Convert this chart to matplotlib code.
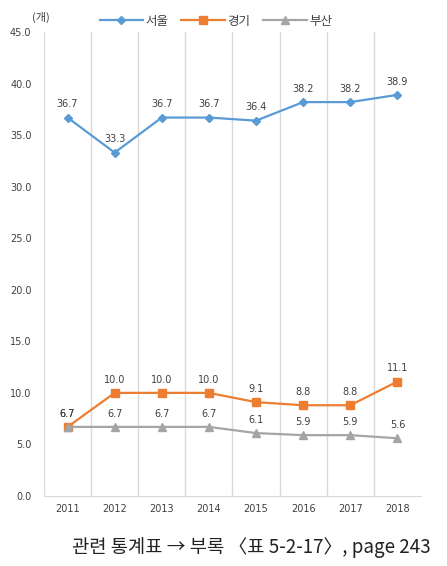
import matplotlib
matplotlib.use('Agg')
import matplotlib.pyplot as plt

plt.rcParams['font.family'] = ['Noto Sans CJK KR', 'DejaVu Sans']

# data
years = ['2011', '2012', '2013', '2014', '2015', '2016', '2017', '2018']
seoul = [36.7, 33.3, 36.7, 36.7, 36.4, 38.2, 38.2, 38.9]
gyeonggi = [6.7, 10.0, 10.0, 10.0, 9.1, 8.8, 8.8, 11.1]
busan = [6.7, 6.7, 6.7, 6.7, 6.1, 5.9, 5.9, 5.6]
series_names = ['서울', '경기', '부산']
colors = ['#5B9BD5', '#ED7D31', '#A5A5A5']
markers = ['D', 's', '^']
marker_sizes = [4.5, 5.5, 6]

num_font = dict(family='DejaVu Sans', fontsize=7, color='#404040')

fig = plt.figure(figsize=(4.47, 5.66), dpi=100)
ax = fig.add_axes([0.0984, 0.1237, 0.8434, 0.8198])

x = list(range(len(years)))
for vals, name, c, m, ms in zip([seoul, gyeonggi, busan], series_names, colors, markers, marker_sizes):
    ax.plot(x, vals, color=c, marker=m, markersize=ms, linewidth=1.6, label=name)
    for xi, v in zip(x, vals):
        ax.annotate(f'{v:.1f}', (xi, v), xytext=(0, 6), textcoords='offset points',
                    ha='center', va='bottom', **num_font)

ax.set_xlim(-0.5, len(years) - 0.5)
ax.set_ylim(0, 45)
ax.set_yticks([0, 5, 10, 15, 20, 25, 30, 35, 40, 45])
ax.set_yticklabels([f'{v:.1f}' for v in ax.get_yticks()], **num_font)
ax.set_xticks(x)
ax.set_xticklabels(years, **num_font)
ax.tick_params(axis='y', length=0, pad=9)
ax.tick_params(axis='x', length=0, pad=6)

# vertical category separators
for b in range(len(years)):
    ax.axvline(b - 0.5, color='#D9D9D9', linewidth=1, zorder=0)

for s in ['top', 'right', 'left']:
    ax.spines[s].set_visible(False)
ax.spines['bottom'].set_color('#D9D9D9')

ax.legend(loc='lower center', bbox_to_anchor=(0.456, 0.985), ncol=3, frameon=False,
          fontsize=9, handlelength=3.5, columnspacing=1.0, handletextpad=0.2,
          labelcolor='#404040')

fig.text(0.072, 0.963, '(개)', fontsize=8, color='#404040')
fig.text(0.963, 0.033, '관련 통계표 → 부록 〈표 5-2-17〉, page 243', fontsize=13.5,
         ha='right', va='center', color='#222222')

fig.savefig('out.png', dpi=100)
